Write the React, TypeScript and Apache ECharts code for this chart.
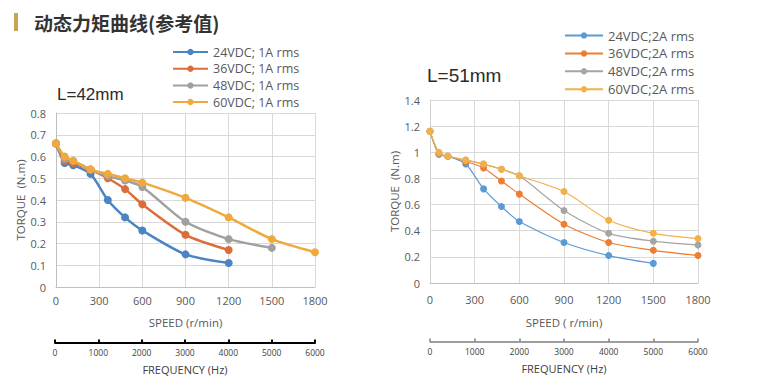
import React, { useEffect, useRef } from "react";
import * as echarts from "echarts";

const speeds = [0, 60, 120, 240, 360, 480, 600, 900, 1200, 1500, 1800];
const speedTicks = [0, 300, 600, 900, 1200, 1500, 1800];
const freqTicks = [0, 1000, 2000, 3000, 4000, 5000, 6000];

const leftNames = ["24VDC; 1A rms", "36VDC; 1A rms", "48VDC; 1A rms", "60VDC; 1A rms"];
const left24 = [0.66, 0.57, 0.56, 0.52, 0.4, 0.32, 0.26, 0.15, 0.11];
const left36 = [0.66, 0.58, 0.57, 0.54, 0.5, 0.45, 0.38, 0.24, 0.17];
const left48 = [0.66, 0.59, 0.58, 0.54, 0.51, 0.49, 0.46, 0.3, 0.22, 0.18];
const left60 = [0.66, 0.6, 0.58, 0.54, 0.52, 0.5, 0.48, 0.41, 0.32, 0.22, 0.16];

const rightNames = ["24VDC;2A rms", "36VDC;2A rms", "48VDC;2A rms", "60VDC;2A rms"];
const right24 = [1.16, 0.985, 0.97, 0.91, 0.72, 0.585, 0.47, 0.31, 0.21, 0.15];
const right36 = [1.16, 0.985, 0.97, 0.93, 0.88, 0.78, 0.68, 0.45, 0.31, 0.25, 0.21];
const right48 = [1.16, 0.99, 0.97, 0.94, 0.91, 0.87, 0.82, 0.555, 0.38, 0.32, 0.29];
const right60 = [1.16, 1.0, 0.97, 0.94, 0.91, 0.87, 0.82, 0.7, 0.48, 0.38, 0.34];

const leftColors = ["#4a84c2", "#dd6d38", "#a0a0a0", "#efa93c"];
const rightColors = ["#5b9bd5", "#ed7d31", "#a5a5a5", "#f2b049"];

const FONT = "'Open Sans', sans-serif";
const TXT = "#595959";

const pair = (arr: number[]) => arr.map((v, i) => [speeds[i], v]);
const plain = (v: number) => String(v);

export default function App() {
  const ref = useRef<HTMLDivElement>(null);
  useEffect(() => {
    if (!ref.current) return;
    const chart = echarts.init(ref.current, null, { renderer: "svg" });
    const leftData = [left24, left36, left48, left60];
    const rightData = [right24, right36, right48, right60];

    const speedAxis = (grid: number, gap: number, margin: number, name: string) => ({
      type: "value",
      gridIndex: grid,
      min: speedTicks[0],
      max: speedTicks[speedTicks.length - 1],
      interval: 300,
      axisLine: { show: true, lineStyle: { color: "#bfbfbf", width: 1 } },
      axisTick: { show: false },
      splitLine: { show: true, lineStyle: { color: "#d9d9d9", width: 1 } },
      axisLabel: { fontSize: 11, color: TXT, fontFamily: FONT, margin, formatter: plain },
      name,
      nameLocation: "middle",
      nameGap: gap,
      nameTextStyle: { fontSize: 11.5, color: TXT, fontFamily: FONT },
    });
    const freqAxis = (grid: number, color: string, width: number) => ({
      type: "value",
      gridIndex: grid,
      min: freqTicks[0],
      max: freqTicks[freqTicks.length - 1],
      interval: 1000,
      axisLine: { show: true, lineStyle: { color, width } },
      axisTick: { show: true, inside: true, length: 3, lineStyle: { color, width } },
      splitLine: { show: false },
      axisLabel: { fontSize: 8.5, color: "#404040", fontFamily: FONT, margin: 5, formatter: plain },
      name: "FREQUENCY (Hz)",
      nameLocation: "middle",
      nameGap: 21,
      nameTextStyle: { fontSize: 11, color: "#404040", fontFamily: FONT },
    });

    chart.setOption({
      animation: false,
      backgroundColor: "#ffffff",
      textStyle: { fontFamily: FONT },
      graphic: [
        { type: "rect", shape: { x: 14, y: 13, width: 4, height: 18 }, style: { fill: "#c9a35a" } },
        {
          type: "text",
          x: 34,
          y: 22,
          style: {
            text: "动态力矩曲线(参考值)",
            fontSize: 19,
            fontWeight: "bold",
            fontFamily: "'Noto Sans CJK SC', sans-serif",
            fill: "#333333",
            verticalAlign: "middle",
          },
        },
        {
          type: "text",
          x: 57,
          y: 94,
          style: {
            text: "L=42mm",
            fontSize: 17,
            fontFamily: "'Liberation Sans', Arial, sans-serif",
            fill: "#2b2b2b",
            verticalAlign: "middle",
          },
        },
        {
          type: "text",
          x: 427,
          y: 75,
          style: {
            text: "L=51mm",
            fontSize: 19,
            fontFamily: "'Liberation Sans', Arial, sans-serif",
            fill: "#2b2b2b",
            verticalAlign: "middle",
          },
        },
      ],
      legend: [
        {
          data: leftNames,
          orient: "vertical",
          left: 167,
          top: 39,
          itemWidth: 35,
          itemHeight: 8,
          itemGap: 0.7,
          textStyle: { fontSize: 12.5, color: TXT, fontFamily: FONT, lineHeight: 16 },
        },
        {
          data: rightNames,
          orient: "vertical",
          left: 559,
          top: 22,
          itemWidth: 38,
          itemHeight: 8,
          itemGap: 0.9,
          textStyle: { fontSize: 13, color: TXT, fontFamily: FONT, lineHeight: 17 },
        },
      ],
      grid: [
        { left: 56, top: 113, width: 259, height: 174 },
        { left: 55, top: 341.5, width: 260, height: 1 },
        { left: 430, top: 100, width: 268, height: 183 },
        { left: 430, top: 340.5, width: 268, height: 1 },
      ],
      xAxis: [
        speedAxis(0, 29, 8, "SPEED (r/min)"),
        freqAxis(1, "#000000", 2),
        speedAxis(2, 33, 11, "SPEED ( r/min)"),
        freqAxis(3, "#7f7f7f", 1.5),
      ],
      yAxis: [
        {
          type: "value",
          gridIndex: 0,
          min: 0,
          max: 0.8,
          interval: 0.1,
          axisLine: { show: true, lineStyle: { color: "#bfbfbf" } },
          axisTick: { show: false },
          splitLine: { show: true, lineStyle: { color: "#d9d9d9" } },
          axisLabel: { fontSize: 11, color: TXT, fontFamily: FONT, margin: 10 },
          name: "TORQUE  (N.m)",
          nameLocation: "middle",
          nameGap: 29,
          nameTextStyle: { fontSize: 11.5, color: TXT, fontFamily: FONT },
        },
        { type: "value", gridIndex: 1, show: false },
        {
          type: "value",
          gridIndex: 2,
          min: 0,
          max: 1.4,
          interval: 0.2,
          axisLine: { show: true, lineStyle: { color: "#d0d0d0" } },
          axisTick: { show: false },
          splitLine: { show: true, lineStyle: { color: "#d9d9d9" } },
          axisLabel: { fontSize: 11, color: TXT, fontFamily: FONT, margin: 10 },
          name: "TORQUE  (N.m)",
          nameLocation: "middle",
          nameGap: 30,
          nameTextStyle: { fontSize: 11.5, color: TXT, fontFamily: FONT },
        },
        { type: "value", gridIndex: 3, show: false },
      ],
      series: [
        ...leftData.map((d, i) => ({
          type: "line",
          name: leftNames[i],
          xAxisIndex: 0,
          yAxisIndex: 0,
          data: pair(d),
          smooth: 0.25,
          symbol: "circle",
          symbolSize: 8,
          lineStyle: { width: 2.5, color: leftColors[i] },
          itemStyle: { color: leftColors[i] },
          z: 2 + i,
        })),
        ...rightData.map((d, i) => ({
          type: "line",
          name: rightNames[i],
          xAxisIndex: 2,
          yAxisIndex: 2,
          data: pair(d),
          smooth: 0.25,
          symbol: "circle",
          symbolSize: 7,
          lineStyle: { width: 1.2, color: rightColors[i] },
          itemStyle: { color: rightColors[i] },
          z: 2 + i,
        })),
      ],
    });
    return () => chart.dispose();
  }, []);
  return (
    <div
      ref={ref}
      style={{ position: "absolute", left: 0, top: 0, width: 774, height: 387, background: "#fff" }}
    />
  );
}
